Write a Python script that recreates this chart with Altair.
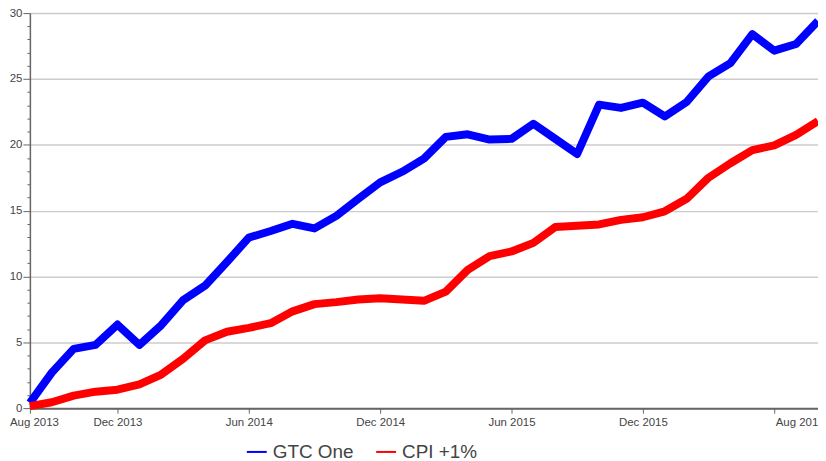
import altair as alt
import pandas as pd

# Monthly observations, Aug 2013 .. Aug 2016 (index 0..36)
month_index = list(range(37))

gtc_one = [0.4, 2.7, 4.5, 4.8, 6.35, 4.8, 6.3, 8.2, 9.3, 11.1, 12.95, 13.45, 14.0,
           13.65, 14.6, 15.9, 17.15, 17.95, 18.95, 20.6, 20.8, 20.4, 20.45, 21.6,
           20.45, 19.3, 23.05, 22.8, 23.2, 22.15, 23.25, 25.2, 26.2, 28.4, 27.15,
           27.65, 29.4]

cpi_plus_1 = [0.15, 0.45, 0.95, 1.25, 1.4, 1.8, 2.55, 3.75, 5.15, 5.8, 6.1, 6.45,
              7.35, 7.9, 8.05, 8.25, 8.35, 8.25, 8.15, 8.85, 10.5, 11.55, 11.9,
              12.55, 13.75, 13.85, 13.95, 14.3, 14.5, 14.95, 15.9, 17.5, 18.6, 19.6,
              19.95, 20.75, 21.8]

series_names = ["GTC One", "CPI +1%"]
series_colors = ["#0000ff", "#ff0000"]

tick_positions = [0, 4, 10, 16, 22, 28, 34]
tick_labels = ["Aug 2013", "Dec 2013", "Jun 2014", "Dec 2014", "Jun 2015",
               "Dec 2015", "Aug 2016"]

y_ticks = list(range(0, 31))

rows = []
for name, vals in zip(series_names, [gtc_one, cpi_plus_1]):
    for i, v in zip(month_index, vals):
        rows.append({"idx": i, "value": v, "series": name, "ord": series_names.index(name)})
df = pd.DataFrame(rows)

label_expr = " : ".join(
    [f"datum.value == {p} ? '{l}'" for p, l in zip(tick_positions, tick_labels)]
) + " : ''"

FONT = "Arial, Liberation Sans, sans-serif"

chart = alt.Chart(df).mark_line(strokeWidth=8, strokeJoin="round", strokeCap="butt").encode(
    x=alt.X(
        "idx:Q",
        scale=alt.Scale(domain=[0, 36], nice=False, zero=False),
        axis=alt.Axis(
            values=tick_positions,
            labelExpr=label_expr,
            title=None,
            grid=False,
            domainColor="#666666",
            domainWidth=2,
            tickColor="#666666",
            tickSize=5,
            tickWidth=1,
            labelFont=FONT,
            labelFontSize=11.5,
            labelColor="#444444",
            labelPadding=3,
            labelFlush=False,
            labelOverlap=False,
            labelAlign={"expr": "datum.value == 34 ? 'left' : 'center'"},
            labelOffset={"expr": "datum.value == 0 ? 4 : (datum.value == 34 ? 1 : 0)"},
        ),
    ),
    y=alt.Y(
        "value:Q",
        scale=alt.Scale(domain=[0, 30], nice=False),
        axis=alt.Axis(
            values=y_ticks,
            labelExpr="datum.value % 5 == 0 ? datum.label : ''",
            title=None,
            grid=True,
            gridColor="#cccccc",
            gridWidth=1.5,
            gridOpacity={"expr": "datum.value % 5 == 0 ? 1 : 0"},
            domainColor="#666666",
            domainWidth=1.5,
            tickColor="#666666",
            tickSize={"expr": "datum.value % 5 == 0 ? 7 : 3"},
            labelFont=FONT,
            labelFontSize=11.5,
            labelColor="#444444",
            labelPadding=1,
            labelOverlap=False,
            labelFlush=False,
        ),
    ),
    color=alt.Color(
        "series:N",
        scale=alt.Scale(domain=series_names, range=series_colors),
        sort=series_names,
        legend=alt.Legend(
            orient="none",
            legendX=217,
            legendY=430,
            direction="horizontal",
            title=None,
            symbolType="stroke",
            symbolSize=400,
            symbolStrokeWidth=2,
            labelFont=FONT,
            labelFontSize=19,
            labelColor="#444444",
            labelOffset=5,
            columnPadding=18,
        ),
    ),
    order=alt.Order("ord:Q"),
).properties(
    width=792,
    height=397,
    autosize=alt.AutoSizeParams(type="none"),
    padding={"left": 22, "top": 4, "right": 0, "bottom": 58},
).configure_view(stroke=None).configure(background="white")

chart.save("out.html", embed_options={"renderer": "svg", "actions": False})
